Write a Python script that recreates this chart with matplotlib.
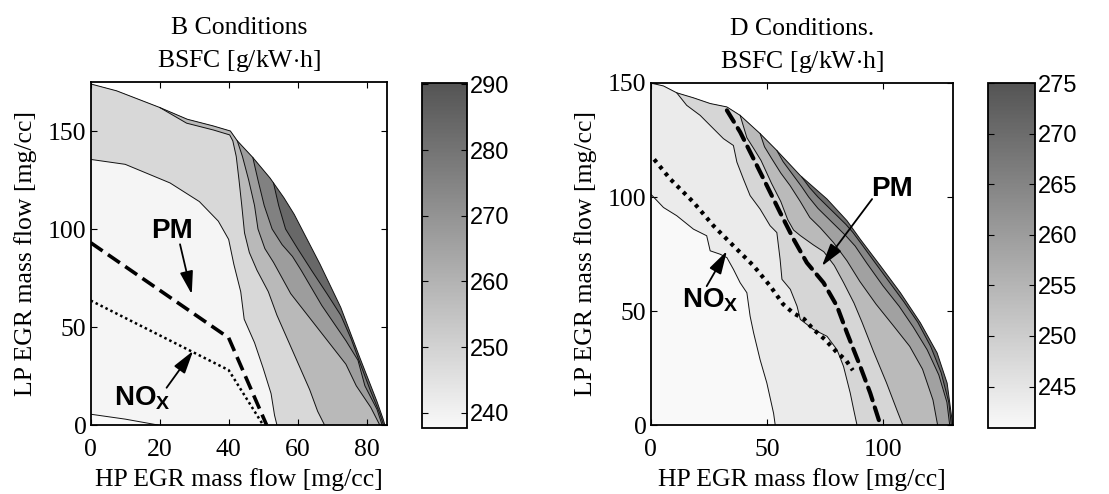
import matplotlib
matplotlib.use("Agg")
import matplotlib.pyplot as plt
from matplotlib.colors import LinearSegmentedColormap, Normalize
from matplotlib.cm import ScalarMappable

# ---------------- Panel B data (HP EGR x, LP EGR y) ----------------
b_bound_x = [0, 7.5, 20, 28, 35.5, 40.5, 42.5, 47, 52, 56, 59, 61.5, 66.5, 72.5, 78, 83, 84.8, 85.3]
b_bound_y = [174, 170.5, 162, 156, 152.6, 150, 145, 136.5, 126, 116, 107.5, 99, 82, 60, 34.5, 12, 3, 0]

b_c0_x = [0, 10, 19.5]
b_c0_y = [5.5, 3, 0]
b_c1_x = [0, 10, 23, 31.5, 37, 40, 41.5, 43.5, 44.5, 47.5, 50, 52.3, 53.3, 54]
b_c1_y = [135.5, 133, 123.5, 114, 104, 94.7, 82, 68, 54, 42, 29, 16, 5, 0]
b_c2_x = [20, 27.8, 35.6, 40.3, 41.2, 42.2, 43, 43.8, 44.6, 46, 48.2, 51.5, 54, 57.5, 60.5, 63.5, 65.8, 67.8]
b_c2_y = [162, 154, 150.5, 148, 145, 137, 125, 112, 98, 88, 79, 68, 56, 42, 30, 18, 7, 0]
b_c3_x = [42.5, 44, 45.8, 47.5, 48.5, 50.5, 53, 55.5, 58, 62, 66, 70, 74, 77, 81.2, 83.8]
b_c3_y = [145, 137, 125, 112, 100, 90, 83, 75, 67, 58, 49, 40, 31, 20, 9, 0]
b_c4_x = [47, 48.5, 50.3, 52.6, 55.5, 58.5, 61, 64, 67, 70.5, 74, 77.5, 79.5, 83, 84.5]
b_c4_y = [136.5, 125, 112, 100, 92, 86, 79, 70, 61, 52, 43, 33, 20, 8, 0]
b_c5_x = [53, 54.5, 56.5, 60, 64, 68.5, 72.5, 75.5, 78, 81, 83.8, 84.9]
b_c5_y = [123.5, 112, 100, 90, 79, 67, 56, 44, 32, 18, 6, 0]
# value of each band, from the lowest (below C0) to the highest (outside C5)
b_band_vals = [237.7, 239.0, 248.0, 258.0, 267.0, 276.0, 284.0]

b_pm_x = [0, 40, 51]
b_pm_y = [93, 44.5, 0]
b_nox_x = [0, 40, 50]
b_nox_y = [63.5, 28, 0]

b_xticks = [0, 20, 40, 60, 80]
b_yticks = [0, 50, 100, 150]
b_cticks = [240, 250, 260, 270, 280, 290]

# ---------------- Panel D data ----------------
d_bound_x = [0, 5.5, 11.2, 18.4, 25.6, 32.8, 38.5, 47.1, 54.3, 64.4, 75.9, 84.5, 90.2, 98.9, 107.5, 116.1, 123.3, 127.6, 130]
d_bound_y = [150, 148.7, 145.7, 143.5, 141, 139.5, 135.8, 127.8, 120.4, 109.4, 99.1, 89.6, 81.5, 69.8, 58, 44.8, 31.6, 18.4, 0]

d_ca_x = [0, 5.5, 11.2, 18.4, 24.1, 25.6, 29.9, 32.8, 35.6, 38.5, 41.4, 42.8, 44.3, 47.1, 50, 52.9, 53.6]
d_ca_y = [101.3, 95.4, 91.8, 85.9, 83, 76.4, 74.9, 73.4, 68.3, 62.4, 58, 47.7, 40.4, 28.6, 18.4, 5.1, 0]
d_cb_x = [11.2, 15.5, 21.3, 25.6, 31.3, 35.6, 37.1, 39.9, 42.8, 47.1, 51.4, 54.3, 55.7, 56.5, 60.1, 63, 64.4, 70.1, 75.9, 80.2, 83, 85.9, 87.4, 88.8]
d_cb_y = [145.7, 140.2, 135.8, 131.4, 125.6, 122.6, 115.3, 107.9, 100.6, 94.7, 87.4, 84.4, 72.7, 63.9, 59.5, 52.1, 46.3, 41.9, 38.9, 33, 25.7, 14, 6.6, 0]
d_cc_x = [38.5, 41.4, 44.5, 47.5, 52, 56, 59, 61.5, 64.5, 70, 74.5, 79, 83, 87.5, 91, 96, 101.5, 106, 108.5]
d_cc_y = [135.8, 126, 121, 116, 106, 98, 90, 85.5, 83, 79, 76, 70, 62.5, 53.5, 45, 32, 18.5, 6.5, 0]
d_cd_x = [47.1, 49, 52, 56, 60, 64.4, 68.5, 73, 78.7, 84.5, 90, 97, 104.5, 111.5, 117, 121.5, 123.5]
d_cd_y = [127.8, 122, 117, 110.5, 105, 98, 91, 86.5, 80, 72, 63, 53, 43.5, 34.5, 24.5, 11, 0]
d_ce_x = [54.3, 57, 61, 65, 68, 72, 76, 80, 84, 88, 93, 100, 107, 113, 119, 124, 127.5, 128.7]
d_ce_y = [120.4, 115.5, 110, 104.5, 100, 95, 91, 87, 83, 78.5, 71, 61, 52, 43, 33, 22, 10, 0]
d_cf_x = [65, 68.5, 72, 76, 80, 84, 87, 91, 96, 102.5, 109, 115, 120.5, 125, 128.3, 129.4]
d_cf_y = [108.8, 104, 100, 96, 92, 88, 84.5, 79, 72, 63, 54, 45, 34.5, 23, 10, 0]
d_band_vals = [240.9, 243.8, 248.0, 253.9, 259.1, 264.4, 270.2]

d_pm_x = [32.8, 38.5, 44.3, 50, 55.7, 61.5, 67.2, 74.4, 80.2, 84.5, 90.2, 94.5, 98.9]
d_pm_y = [138, 128.5, 116.7, 105, 93.2, 81.5, 71.2, 62.4, 52.1, 40.4, 25.7, 14, 0]
d_nox_x = [1.5, 8.3, 18.4, 27, 35.6, 44.3, 51.4, 57, 61.5, 66, 70, 75, 80, 84, 87]
d_nox_y = [116.5, 108, 97.7, 87.4, 78.6, 69.8, 61, 53, 49, 46.5, 42, 37.5, 32, 28.5, 24]

d_xticks = [0, 50, 100]
d_yticks = [0, 50, 100, 150]
d_cticks = [245, 250, 255, 260, 265, 270, 275]

# ---------------- styling ----------------
W, H = 1109, 494
SERIF = "Liberation Serif"
SANS = "Liberation Sans"
FS = 18.5
plt.rcParams["mathtext.fontset"] = "custom"
plt.rcParams["mathtext.bf"] = "Liberation Sans:bold"
plt.rcParams["mathtext.rm"] = "Liberation Sans"

cmap = LinearSegmentedColormap.from_list("bsfc", [(0.975, 0.975, 0.975), (0.33, 0.33, 0.33)])

fig = plt.figure(figsize=(W / 100, H / 100), dpi=100)


def rect(x0, y0, x1, y1):
    return [x0 / W, 1 - y1 / H, (x1 - x0) / W, (y1 - y0) / H]


def full_curve(bx, by, cx, cy):
    if cx[0] > 0:
        px = [x for x in bx if x < cx[0]]
        py = [y for x, y in zip(bx, by) if x < cx[0]]
        return px + list(cx), py + list(cy)
    return list(cx), list(cy)


def draw_panel(ax, bx, by, curves, band_vals, norm, xlim, ylim, xticks, yticks, title):
    ax.fill(list(bx) + [0], list(by) + [0], color=cmap(norm(band_vals[-1])), lw=0, zorder=1)
    for (cx, cy), val in zip(reversed(curves), reversed(band_vals[:-1])):
        fx, fy = full_curve(bx, by, cx, cy)
        ax.fill(fx + [0], fy + [0], color=cmap(norm(val)), lw=0, zorder=1)
    for cx, cy in curves:
        ax.plot(cx, cy, color="#111111", lw=0.7, zorder=2)
    ax.plot(bx, by, color="#111111", lw=0.7, zorder=2)
    ax.set_xlim(*xlim)
    ax.set_ylim(*ylim)
    ax.set_xticks(xticks)
    ax.set_yticks(yticks)
    ax.tick_params(direction="in", top=True, right=True, length=4, width=0.8,
                   labelsize=FS)
    ax.tick_params(axis="x", pad=10)
    ax.tick_params(axis="y", pad=3)
    for lab in ax.get_xticklabels() + ax.get_yticklabels():
        lab.set_family(SERIF)
    for s in ax.spines.values():
        s.set_linewidth(1.3)
    ax.set_xlabel("HP EGR mass flow [mg/cc]", family=SERIF, fontsize=FS, labelpad=5)
    ax.set_ylabel("LP EGR mass flow [mg/cc]", family=SERIF, fontsize=FS, labelpad=8)
    ax.set_title(title, family=SERIF, fontsize=FS, linespacing=1.45, pad=11)


def draw_cbar(cax, norm, ticks):
    cb = fig.colorbar(ScalarMappable(norm=norm, cmap=cmap), cax=cax)
    cb.set_ticks(ticks)
    cb.outline.set_linewidth(1.3)
    cax.tick_params(direction="in", left=True, right=True, length=4, width=0.8,
                    labelsize=17, pad=2)
    for lab in cax.get_yticklabels():
        lab.set_family(SANS)


arrow_kw = dict(arrowstyle="-|>,head_length=0.7,head_width=0.2", color="k",
                lw=1.3, mutation_scale=20, shrinkA=0, shrinkB=0)

# ---------------- Panel B ----------------
axB = fig.add_axes(rect(90.7, 82, 387.3, 425))
normB = Normalize(237.7, 290.2)
curvesB = [(b_c0_x, b_c0_y), (b_c1_x, b_c1_y), (b_c2_x, b_c2_y), (b_c3_x, b_c3_y),
           (b_c4_x, b_c4_y), (b_c5_x, b_c5_y)]
draw_panel(axB, b_bound_x, b_bound_y, curvesB, b_band_vals, normB, (0, 86), (0, 175),
           b_xticks, b_yticks, "B Conditions\nBSFC [g/kW$\\cdot$h]")
axB.plot(b_pm_x, b_pm_y, color="k", lw=2.6, ls=(0, (4, 1.8)), zorder=3)
axB.plot(b_nox_x, b_nox_y, color="k", lw=1.8, ls=(0, (1, 1.2)), zorder=3)
axB.text(23.6, 99, "PM", family=SANS, fontweight="bold", fontsize=20, ha="center", va="center", zorder=4)
axB.annotate("", xy=(29.3, 66.7), xytext=(25.9, 92.2), arrowprops=arrow_kw, zorder=4)
axB.text(15, 14, r"$\mathbf{NO}_\mathbf{X}$", fontsize=20, ha="center", va="center", zorder=4)
axB.annotate("", xy=(29.7, 37.8), xytext=(22, 19), arrowprops=arrow_kw, zorder=4)

caxB = fig.add_axes(rect(421.7, 83, 466.7, 428))
draw_cbar(caxB, normB, b_cticks)

# ---------------- Panel D ----------------
axD = fig.add_axes(rect(650.7, 83, 952.7, 425))
normD = Normalize(240.9, 275.0)
curvesD = [(d_ca_x, d_ca_y), (d_cb_x, d_cb_y), (d_cc_x, d_cc_y), (d_cd_x, d_cd_y),
           (d_ce_x, d_ce_y), (d_cf_x, d_cf_y)]
draw_panel(axD, d_bound_x, d_bound_y, curvesD, d_band_vals, normD, (0, 130), (0, 150),
           d_xticks, d_yticks, "D Conditions.\nBSFC [g/kW$\\cdot$h]")
axD.plot(d_pm_x, d_pm_y, color="k", lw=3.0, ls=(0, (3.2, 1.8)), dash_capstyle="round", zorder=3)
axD.plot(d_nox_x, d_nox_y, color="k", lw=3.0, ls=(0, (0.9, 1.2)), zorder=3)
axD.text(104, 103.5, "PM", family=SANS, fontweight="bold", fontsize=20, ha="center", va="center", zorder=4)
axD.annotate("", xy=(73.7, 69.7), xytext=(95.3, 99.1), arrowprops=arrow_kw, zorder=4)
axD.text(25.6, 55, r"$\mathbf{NO}_\mathbf{X}$", fontsize=20, ha="center", va="center", zorder=4)
axD.annotate("", xy=(32.8, 76.3), xytext=(24.1, 60.9), arrowprops=arrow_kw, zorder=4)

caxD = fig.add_axes(rect(988, 83, 1035, 428))
draw_cbar(caxD, normD, d_cticks)

fig.savefig("out.png", dpi=100)
